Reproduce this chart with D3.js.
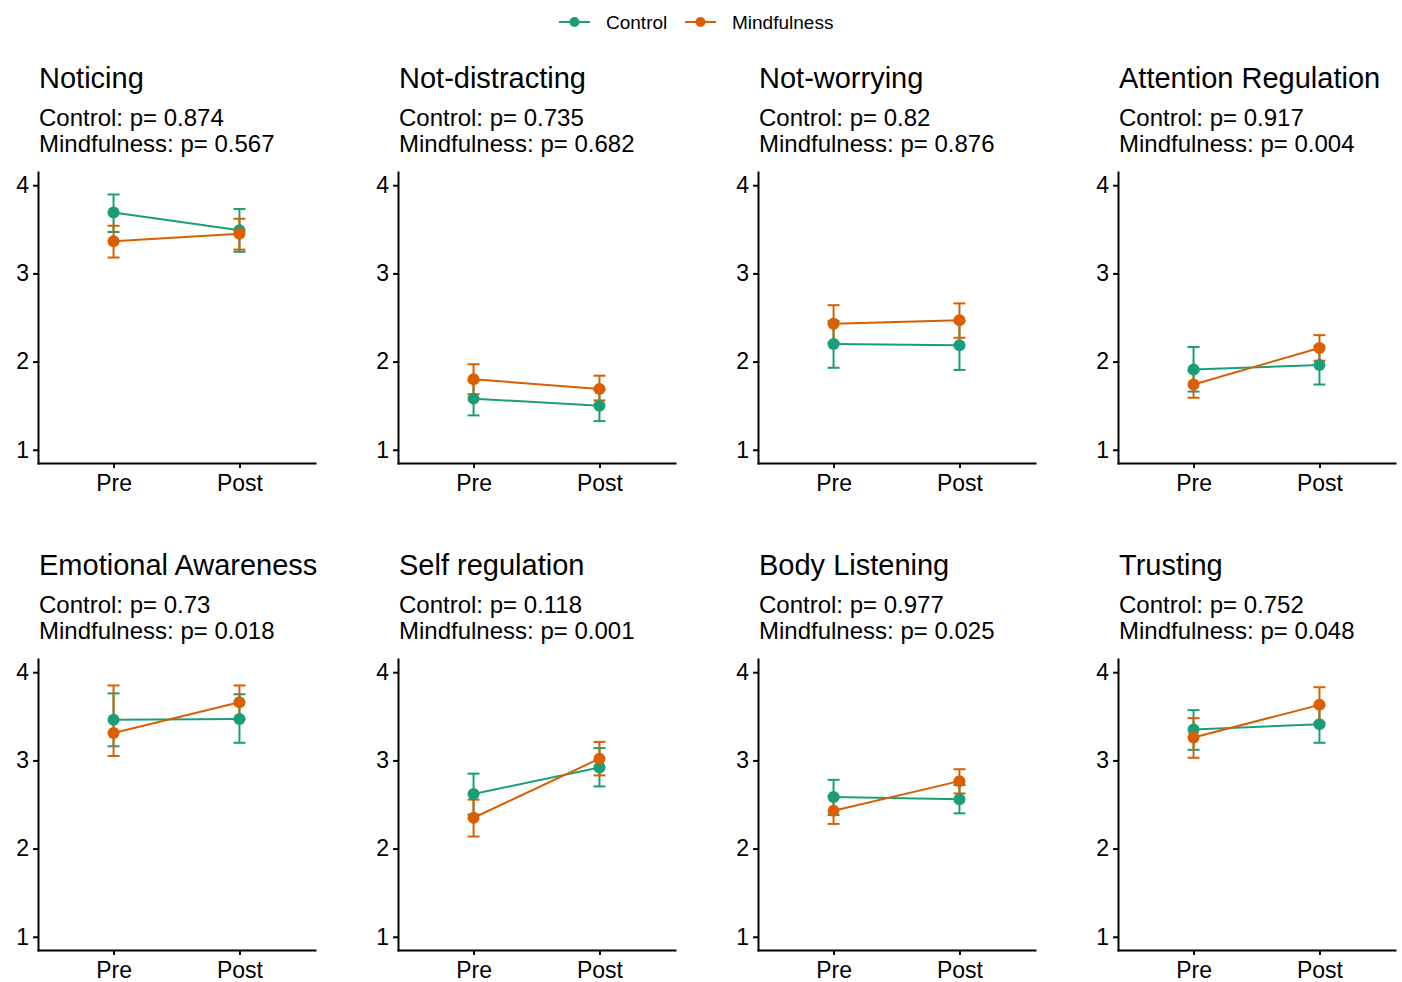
<!DOCTYPE html>
<html>
<head>
  <meta charset="utf-8">
  <title>Pre / Post scores by group</title>
  <script src="https://d3js.org/d3.v7.min.js"></script>
  <style>
    html, body {
      margin: 0;
      padding: 0;
      background: #fff;
    }
    svg {
      display: block;
      font-family: "Liberation Sans", Arial, sans-serif;
    }
    .title { font-size: 29px; fill: #000; }
    .sub { font-size: 24px; fill: #000; }
    .axis path, .axis line { stroke: #000; stroke-width: 2px; }
    .axis text { font-size: 23px; fill: #000; font-family: "Liberation Sans", Arial, sans-serif; }
    .legend text { font-size: 19px; fill: #000; }
  </style>
</head>
<body>
  <svg width="1402" height="982"></svg>

  <script>
    // panel titles, left to right, top row then bottom row
    const panels = ["Noticing", "Not-distracting", "Not-worrying", "Attention Regulation",
                    "Emotional Awareness", "Self regulation", "Body Listening", "Trusting"];
    const groups = ["Control", "Mindfulness"];
    const times = ["Pre", "Post"];
    const yTicks = [1, 2, 3, 4];

    // p values shown under each title
    const pControl = ["0.874", "0.735", "0.82", "0.917", "0.73", "0.118", "0.977", "0.752"];
    const pMindful = ["0.567", "0.682", "0.876", "0.004", "0.018", "0.001", "0.025", "0.048"];

    // means [Pre, Post] for each panel
    const controlMean = [[3.69, 3.49], [1.58, 1.50], [2.20, 2.185], [1.91, 1.96],
                         [3.46, 3.47], [2.62, 2.92], [2.585, 2.56], [3.35, 3.41]];
    const controlLow  = [[3.47, 3.245], [1.39, 1.325], [1.93, 1.905], [1.66, 1.74],
                         [3.16, 3.20], [2.385, 2.705], [2.38, 2.40], [3.12, 3.20]];
    const controlHigh = [[3.895, 3.73], [1.78, 1.68], [2.46, 2.46], [2.165, 2.18],
                         [3.76, 3.75], [2.85, 3.14], [2.78, 2.72], [3.57, 3.62]];

    const mindfulMean = [[3.365, 3.45], [1.80, 1.69], [2.43, 2.47], [1.74, 2.155],
                         [3.31, 3.66], [2.35, 3.02], [2.43, 2.765], [3.26, 3.63]];
    const mindfulLow  = [[3.18, 3.27], [1.63, 1.56], [2.215, 2.27], [1.59, 2.01],
                         [3.05, 3.47], [2.137, 2.83], [2.28, 2.625], [3.03, 3.43]];
    const mindfulHigh = [[3.54, 3.62], [1.97, 1.84], [2.64, 2.66], [1.89, 2.30],
                         [3.85, 3.85], [2.555, 3.21], [2.59, 2.90], [3.48, 3.83]];

    const colors = { Control: "#1b9e77", Mindfulness: "#d95f02" };

    const svg = d3.select("svg");

    // layout of the 4x2 grid
    const panelW = 277, panelH = 291;
    const colX = [38, 398, 758, 1118];
    const rowY = [172, 659];

    const x = d3.scalePoint().domain(times).range([0, panelW]).padding(0.6);
    const y = d3.scaleLinear().domain([0.85, 4.15]).range([panelH, 0]);

    const series = {
      Control: { mean: controlMean, lo: controlLow, hi: controlHigh },
      Mindfulness: { mean: mindfulMean, lo: mindfulLow, hi: mindfulHigh }
    };

    panels.forEach((name, i) => {
      const g = svg.append("g")
        .attr("transform", `translate(${colX[i % 4]},${rowY[Math.floor(i / 4)]})`);

      g.append("text").attr("class", "title").attr("x", 1).attr("y", -84).text(name);
      g.append("text").attr("class", "sub").attr("x", 1).attr("y", -46)
        .text("Control: p= " + pControl[i]);
      g.append("text").attr("class", "sub").attr("x", 1).attr("y", -20)
        .text("Mindfulness: p= " + pMindful[i]);

      g.append("g").attr("class", "axis")
        .attr("transform", `translate(0,${panelH})`)
        .call(d3.axisBottom(x).tickSize(5).tickPadding(7).tickSizeOuter(0));
      g.append("g").attr("class", "axis")
        .call(d3.axisLeft(y).tickValues(yTicks).tickFormat(d3.format("d"))
          .tickSize(5).tickPadding(4).tickSizeOuter(0));
      g.selectAll(".axis .domain").attr("stroke-linecap", "square");

      const rows = groups.map(grp => times.map((t, k) => ({
        grp, t,
        m: series[grp].mean[i][k],
        lo: series[grp].lo[i][k],
        hi: series[grp].hi[i][k]
      })));

      // error bars
      rows.forEach(r => {
        const eb = g.append("g").attr("stroke", colors[r[0].grp]).attr("stroke-width", 2).attr("fill", "none");
        r.forEach(d => {
          eb.append("line").attr("x1", x(d.t)).attr("x2", x(d.t)).attr("y1", y(d.lo)).attr("y2", y(d.hi));
          eb.append("line").attr("x1", x(d.t) - 6).attr("x2", x(d.t) + 6).attr("y1", y(d.lo)).attr("y2", y(d.lo));
          eb.append("line").attr("x1", x(d.t) - 6).attr("x2", x(d.t) + 6).attr("y1", y(d.hi)).attr("y2", y(d.hi));
        });
      });

      // lines
      const line = d3.line().x(d => x(d.t)).y(d => y(d.m));
      rows.forEach(r => {
        g.append("path").datum(r)
          .attr("d", line)
          .attr("fill", "none")
          .attr("stroke", colors[r[0].grp])
          .attr("stroke-width", 2);
      });

      // points
      rows.forEach(r => {
        g.selectAll(null).data(r).enter().append("circle")
          .attr("cx", d => x(d.t))
          .attr("cy", d => y(d.m))
          .attr("r", 6)
          .attr("fill", colors[r[0].grp]);
      });
    });

    // legend at top
    const legend = svg.append("g").attr("class", "legend").attr("transform", "translate(0,22)");
    const legendX = [559, 685];
    groups.forEach((grp, k) => {
      const lg = legend.append("g").attr("transform", `translate(${legendX[k]},0)`);
      lg.append("line").attr("x1", 0).attr("x2", 31).attr("y1", 0).attr("y2", 0)
        .attr("stroke", colors[grp]).attr("stroke-width", 2);
      lg.append("circle").attr("cx", 15.5).attr("cy", 0).attr("r", 5).attr("fill", colors[grp]);
      lg.append("text").attr("x", 47).attr("y", 0).attr("dy", "0.35em").text(grp);
    });
  </script>
</body>
</html>
